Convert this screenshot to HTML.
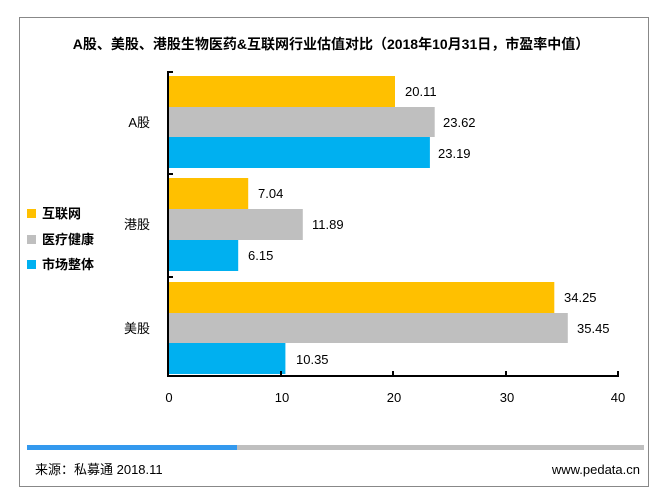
<!DOCTYPE html>
<html><head><meta charset="utf-8"><style>
body{margin:0;background:#fff;width:663px;height:496px;overflow:hidden;font-family:"Liberation Sans","Noto Sans CJK SC",sans-serif}
</style></head><body>
<svg width="663" height="496" xmlns="http://www.w3.org/2000/svg" font-family="Liberation Sans, Noto Sans CJK SC, sans-serif">
<rect x="19.5" y="17.5" width="629" height="469" fill="#fff" stroke="#888" stroke-width="1"/>
<text x="331" y="49" text-anchor="middle" font-size="14" font-weight="bold" fill="#000">A股、美股、港股生物医药&amp;互联网行业估值对比（2018年10月31日，市盈率中值）</text>
<g>
<rect x="169" y="76" width="226" height="31" fill="#FFC000"/>
<rect x="169" y="107" width="265.7" height="30" fill="#BFBFBF"/>
<rect x="169" y="137" width="260.9" height="31" fill="#00B0F0"/>
<rect x="169" y="178" width="79.2" height="31" fill="#FFC000"/>
<rect x="169" y="209" width="133.8" height="31" fill="#BFBFBF"/>
<rect x="169" y="240" width="69.2" height="31" fill="#00B0F0"/>
<rect x="169" y="282" width="385.3" height="31" fill="#FFC000"/>
<rect x="169" y="313" width="398.8" height="30" fill="#BFBFBF"/>
<rect x="169" y="343" width="116.4" height="31" fill="#00B0F0"/>
</g>
<g font-size="13" fill="#000">
<text x="405" y="96">20.11</text>
<text x="443" y="127">23.62</text>
<text x="438" y="158">23.19</text>
<text x="258" y="198">7.04</text>
<text x="312" y="229">11.89</text>
<text x="248" y="260">6.15</text>
<text x="564" y="302">34.25</text>
<text x="577" y="333">35.45</text>
<text x="296" y="364">10.35</text>
</g>
<g stroke="#000" stroke-width="2" fill="none">
<line x1="168" y1="71" x2="168" y2="376"/>
<line x1="167" y1="376" x2="619" y2="376"/>
<line x1="168" y1="72" x2="173" y2="72"/>
<line x1="168" y1="174" x2="173" y2="174"/>
<line x1="168" y1="277" x2="173" y2="277"/>
<line x1="281" y1="376" x2="281" y2="371"/>
<line x1="393" y1="376" x2="393" y2="371"/>
<line x1="506" y1="376" x2="506" y2="371"/>
<line x1="618" y1="376" x2="618" y2="371"/>
</g>
<g font-size="13" fill="#000" text-anchor="middle">
<text x="169" y="402">0</text><text x="282" y="402">10</text><text x="394" y="402">20</text><text x="507" y="402">30</text><text x="618" y="402">40</text>
</g>
<g font-size="13" fill="#000" text-anchor="end">
<text x="150" y="127">A股</text><text x="150" y="229">港股</text><text x="150" y="333">美股</text>
</g>
<g font-size="13" font-weight="bold" fill="#000">
<rect x="27" y="209" width="9" height="9" fill="#FFC000"/><text x="42" y="218">互联网</text>
<rect x="27" y="235" width="9" height="9" fill="#BFBFBF"/><text x="42" y="244">医疗健康</text>
<rect x="27" y="260" width="9" height="9" fill="#00B0F0"/><text x="42" y="269">市场整体</text>
</g>
<rect x="27" y="445" width="617" height="5" fill="#BFBFBF"/>
<rect x="27" y="445" width="210" height="5" fill="#3399EE"/>
<text x="35" y="474" font-size="13" fill="#000">来源：私募通 2018.11</text>
<text x="640" y="474" font-size="13" fill="#000" text-anchor="end">www.pedata.cn</text>
</svg>
</body></html>
